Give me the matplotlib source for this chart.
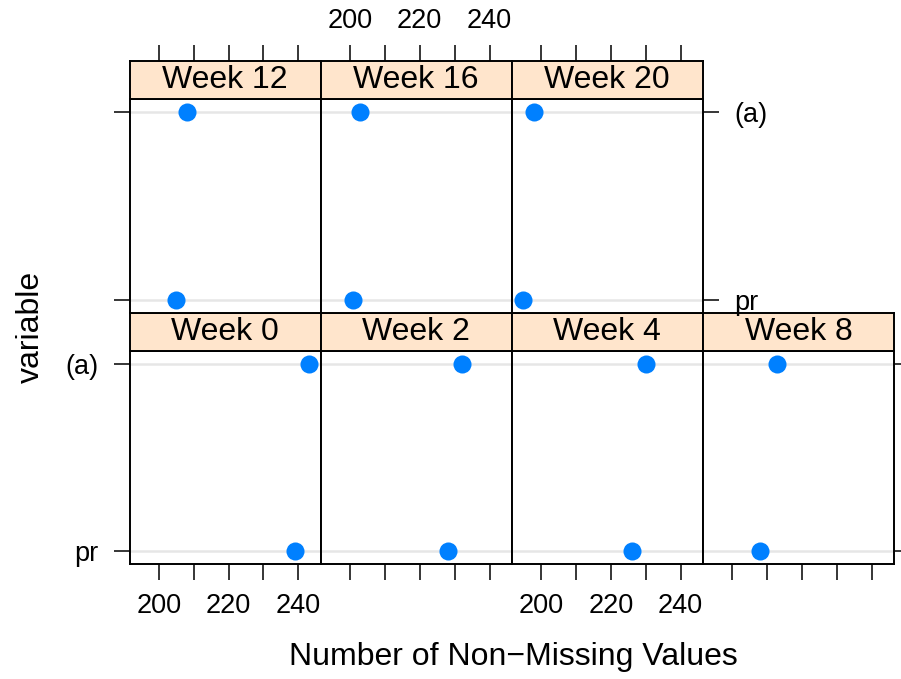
import matplotlib
matplotlib.use("Agg")
import matplotlib.pyplot as plt
import numpy as np

plt.rcParams['font.family'] = ['Liberation Sans', 'DejaVu Sans']

# data
weeks = ["Week 0", "Week 2", "Week 4", "Week 8", "Week 12", "Week 16", "Week 20"]
variables = ["pr", "(a)"]  # bottom to top
count_pr = [239, 228, 226, 208, 205, 201, 195]
count_a = [243, 232, 230, 213, 208, 203, 198]
xticks = [200, 210, 220, 230, 240]
xticklabels = ["200", "", "220", "", "240"]

W, H = 901, 679
fig = plt.figure(figsize=(W / 100, H / 100), dpi=100)

# layout in pixels
x0, x1 = 129.5, 894.0
colw = (x1 - x0) / 4
strip_h = 38.0
panel_h = 213.4
row_top = [351.0, 99.3]  # panel top y for bottom row, top row

lo = min(count_pr + count_a)
hi = max(count_pr + count_a)
pad = 0.07 * (hi - lo)
xlim = (lo - pad, hi + pad)
ylim = (-0.07, len(variables) - 1 + 0.07)

blue = "#0080ff"
strip_col = "#ffe5cc"
fs_big = 23
fs_tick = 19.5
tl = 11.5
lw = 1.4


def fig_rect(left, top, w, h):
    return [left / W, (H - top - h) / H, w / W, h / H]


ypos = np.arange(len(variables))
for i, wk in enumerate(weeks):
    row = 0 if i < 4 else 1
    col = i if i < 4 else i - 4
    left = x0 + col * colw
    ptop = row_top[row]
    ax = fig.add_axes(fig_rect(left, ptop, colw, panel_h))
    sx = fig.add_axes(fig_rect(left, ptop - strip_h, colw, strip_h))

    for y in ypos:
        ax.axhline(y, color="#e6e6e6", lw=1.8, zorder=1)
    ax.plot([count_pr[i], count_a[i]], ypos, "o", color=blue, ms=13,
            mec="none", zorder=3, clip_on=False)
    ax.set_xlim(xlim)
    ax.set_ylim(ylim)
    for s in ax.spines.values():
        s.set_linewidth(lw)

    ax.set_xticks(xticks)
    ax.set_xticklabels(xticklabels)
    ax.set_yticks(ypos)
    ax.set_yticklabels(variables)
    ax.tick_params(direction="out", length=tl, width=1.1, labelsize=fs_tick)
    last_col = 3 if row == 0 else 2
    ax.tick_params(axis="x", top=False, labeltop=False,
                   bottom=(row == 0), labelbottom=(row == 0 and col in (0, 2)),
                   pad=9)
    ax.tick_params(axis="y", left=(col == 0), labelleft=(col == 0 and row == 0),
                   right=(col == last_col),
                   labelright=(col == last_col and row == 1), pad=11)

    # strip
    sx.set_facecolor(strip_col)
    sx.set_xlim(xlim)
    sx.set_yticks([])
    for s in sx.spines.values():
        s.set_linewidth(lw)
    sx.text(0.5, 0.5, wk, transform=sx.transAxes, ha="center", va="center",
            fontsize=fs_big)
    if row == 1:
        sx.set_xticks(xticks)
        sx.set_xticklabels(xticklabels)
        sx.tick_params(axis="x", direction="out", length=tl, width=1.1,
                       labelsize=fs_tick, bottom=False, labelbottom=False,
                       top=True, labeltop=(col == 1), pad=8)
    else:
        sx.set_xticks([])

fig.text(513 / W, 1 - 657 / H, "Number of Non\u2212Missing Values",
         ha="center", va="center", fontsize=fs_big)
fig.text(30.7 / W, 1 - 327 / H, "variable", rotation=90,
         ha="center", va="center", fontsize=fs_big)

fig.savefig("out.png", dpi=100)
